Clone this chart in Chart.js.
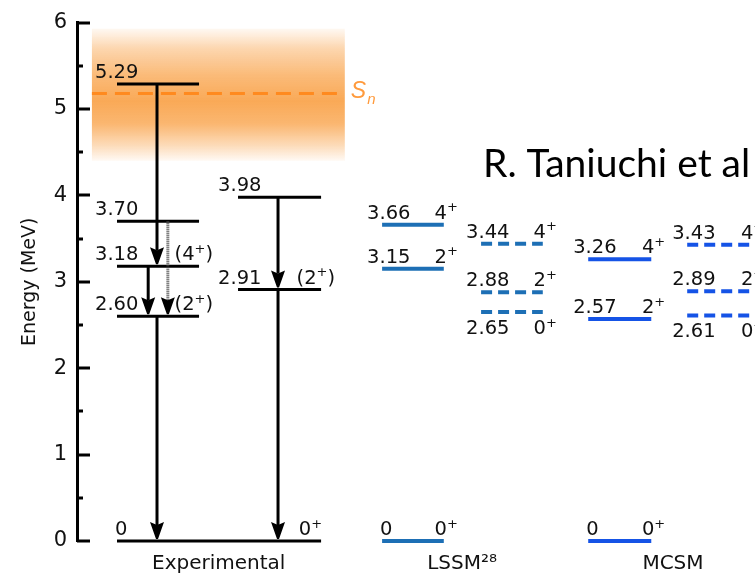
<!DOCTYPE html>
<html><head><meta charset="utf-8">
<script src="https://cdn.jsdelivr.net/npm/chart.js@4/dist/chart.umd.min.js"></script>
<style>html,body{margin:0;padding:0;background:#fff;overflow:hidden}canvas{display:block}</style>
</head><body>
<canvas id="c" width="755" height="574"></canvas>
<script>
// ---------------- data ----------------
const categories = ['Experimental', 'LSSM²⁸', 'MCSM'];
const yTickValues = [0, 1, 2, 3, 4, 5, 6];
const expLevelsA = [5.29, 3.70, 3.18, 2.60];
const expSpinsA = ['', '', '(4⁺)', '(2⁺)'];
const expLevelsB = [3.98, 2.91];
const expSpinsB = ['', '(2⁺)'];
const expGround = [0];
const expGroundSpins = ['0⁺'];
const lssmLevels = [3.66, 3.15, 0];
const lssmSpins = ['4⁺', '2⁺', '0⁺'];
const lssmDashLevels = [3.44, 2.88, 2.65];
const lssmDashSpins = ['4⁺', '2⁺', '0⁺'];
const mcsmLevels = [3.26, 2.57, 0];
const mcsmSpins = ['4⁺', '2⁺', '0⁺'];
const mcsmDashLevels = [3.43, 2.89, 2.61];
const mcsmDashSpins = ['4⁺', '2⁺', '0⁺'];
const transFrom = [5.29, 3.70, 3.18, 2.60, 3.98, 2.91];
const transTo = [3.18, 2.60, 2.60, 0, 2.91, 0];
const neutronSep = 5.18;
const snBand = [4.40, 5.93];
const citation = 'R. Taniuchi et al';

// ---------------- layout / style ----------------
const FONT = '"DejaVu Sans", "Liberation Sans", sans-serif';
const TEXT = '#111';
const LSSM_C = '#1d6fb5';
const MCSM_C = '#1553e6';
const categoryCenters = [2.09, 5.68, 8.79];
const bandX = [0.22, 3.95];
const columns = [
  {levels: expLevelsA, spins: expSpinsA, x0: 0.59, x1: 1.80, color: '#000', width: 3, dash: [], eOff: 22, sOff: 14},
  {levels: expLevelsB, spins: expSpinsB, x0: 2.375, x1: 3.60, color: '#000', width: 3, dash: [], eOff: 20, sOff: 14},
  {levels: expGround, spins: expGroundSpins, x0: 0.59, x1: 3.60, color: '#000', width: 3, dash: [], eOff: 2, sOff: 1},
  {levels: lssmLevels, spins: lssmSpins, x0: 4.50, x1: 5.41, color: LSSM_C, width: 4, dash: [], eOff: 15, sOff: 14},
  {levels: lssmDashLevels, spins: lssmDashSpins, x0: 5.96, x1: 6.87, color: LSSM_C, width: 4, dash: [11, 6], eOff: 15, sOff: 14, below: [false, false, true]},
  {levels: mcsmLevels, spins: mcsmSpins, x0: 7.54, x1: 8.47, color: MCSM_C, width: 4, dash: [], eOff: 15, sOff: 14},
  {levels: mcsmDashLevels, spins: mcsmDashSpins, x0: 9.00, x1: 9.93, color: MCSM_C, width: 4, dash: [11, 6], eOff: 15, sOff: 14, below: [false, false, true]}
];
const transX = [1.18, 1.34, 1.05, 1.18, 2.965, 2.965];
const transDotted = [false, true, false, false, false, false];

// ---------------- datasets ----------------
const datasets = [];
columns.forEach(col => {
  col.levels.forEach(e => {
    datasets.push({
      type: 'line', data: [{x: col.x0, y: e}, {x: col.x1, y: e}],
      borderColor: col.color, borderWidth: col.width, borderDash: col.dash,
      borderCapStyle: 'butt', pointRadius: 0, tension: 0, clip: false
    });
  });
});
datasets.push({
  type: 'line', data: [{x: bandX[0], y: neutronSep}, {x: bandX[1], y: neutronSep}],
  borderColor: '#ff8a1f', borderWidth: 3, borderDash: [15, 8], borderCapStyle: 'butt',
  pointRadius: 0, clip: false
});

function drawRich(ctx, text, x, y, align, size) {
  const parts = [];
  let buf = '';
  for (const ch of text) {
    if (ch === '⁺') { if (buf) parts.push({t: buf, sup: false}); buf = ''; parts.push({t: '+', sup: true}); }
    else buf += ch;
  }
  if (buf) parts.push({t: buf, sup: false});
  const supSize = Math.round(size * 0.68);
  let total = 0;
  parts.forEach(p => {
    ctx.font = (p.sup ? supSize : size) + 'px ' + FONT;
    p.w = ctx.measureText(p.t).width;
    total += p.w;
  });
  let cx = align === 'right' ? x - total : x;
  ctx.textAlign = 'left';
  ctx.textBaseline = 'alphabetic';
  parts.forEach(p => {
    ctx.font = (p.sup ? supSize : size) + 'px ' + FONT;
    ctx.fillText(p.t, cx, p.sup ? y - size * 0.38 : y);
    cx += p.w;
  });
}

function arrow(ctx, x, yFrom, yTo, dotted) {
  const head = 17, hw = 7;
  const tip = yTo - 2;
  ctx.save();
  ctx.lineWidth = 3;
  ctx.strokeStyle = dotted ? '#444' : '#000';
  ctx.setLineDash(dotted ? [1, 1] : []);
  ctx.beginPath(); ctx.moveTo(x, yFrom); ctx.lineTo(x, tip - head + 3); ctx.stroke();
  ctx.setLineDash([]);
  ctx.fillStyle = '#000';
  ctx.beginPath();
  ctx.moveTo(x - hw, tip - head); ctx.lineTo(x, tip - head + 3); ctx.lineTo(x + hw, tip - head);
  ctx.lineTo(x + 1, tip); ctx.lineTo(x - 1, tip); ctx.closePath(); ctx.fill();
  ctx.restore();
}

const scheme = {
  id: 'scheme',
  beforeDatasetsDraw(chart) {
    const {ctx, scales: {x, y}} = chart;
    const x0 = x.getPixelForValue(bandX[0]), x1 = x.getPixelForValue(bandX[1]);
    const yt = y.getPixelForValue(snBand[1]), yb = y.getPixelForValue(snBand[0]);
    const g = ctx.createLinearGradient(0, yt, 0, yb);
    g.addColorStop(0, 'rgba(248,148,45,0.06)');
    g.addColorStop(0.15, 'rgba(248,148,45,0.38)');
    g.addColorStop(0.35, 'rgba(248,148,45,0.64)');
    g.addColorStop(0.55, 'rgba(248,148,45,0.8)');
    g.addColorStop(0.72, 'rgba(248,148,45,0.68)');
    g.addColorStop(0.88, 'rgba(248,148,45,0.34)');
    g.addColorStop(1, 'rgba(248,148,45,0.05)');
    ctx.save(); ctx.fillStyle = g; ctx.fillRect(x0, yt, x1 - x0, yb - yt); ctx.restore();
  },
  afterDatasetsDraw(chart) {
    const {ctx, scales: {x, y}, chartArea} = chart;
    ctx.save();
    // inward axis ticks
    ctx.strokeStyle = '#000'; ctx.lineWidth = 3;
    for (let v = 0; v <= 6; v += 0.5) {
      const py = Math.round(y.getPixelForValue(v));
      const len = Number.isInteger(v) ? 13 : 6;
      ctx.beginPath(); ctx.moveTo(chartArea.left, py); ctx.lineTo(chartArea.left + len, py); ctx.stroke();
    }
    // transitions
    transFrom.forEach((f, i) => {
      arrow(ctx, x.getPixelForValue(transX[i]), y.getPixelForValue(f), y.getPixelForValue(transTo[i]), transDotted[i]);
    });
    // level labels
    ctx.fillStyle = TEXT;
    columns.forEach(col => {
      const px0 = x.getPixelForValue(col.x0), px1 = x.getPixelForValue(col.x1);
      col.levels.forEach((e, i) => {
        const py = y.getPixelForValue(e);
        const below = col.below && col.below[i];
        const base = below ? py + 22 : py - 6;
        const etxt = e === 0 ? '0' : e.toFixed(2);
        const ex = e === 0 ? px0 - 2 : px0 - col.eOff;
        drawRich(ctx, etxt, ex, base, 'left', 19.5);
        if (col.spins[i]) drawRich(ctx, col.spins[i], px1 + col.sOff, base, 'right', 19.5);
      });
    });
    // Sn label
    const sy = y.getPixelForValue(neutronSep);
    const sx = x.getPixelForValue(bandX[1]) + 6;
    ctx.fillStyle = '#ff9a3c';
    ctx.textAlign = 'left'; ctx.textBaseline = 'alphabetic';
    ctx.font = 'italic 23px "Liberation Sans", sans-serif';
    ctx.fillText('S', sx, sy + 5);
    const sw = ctx.measureText('S').width;
    ctx.font = 'italic 15px "Liberation Sans", sans-serif';
    ctx.fillText('n', sx + sw + 1, sy + 11);
    // citation
    ctx.fillStyle = '#000';
    ctx.font = '39px Lato, "Open Sans", sans-serif';
    ctx.fillText(citation, 483, 177);
    ctx.restore();
  }
};

new Chart(document.getElementById('c'), {
  type: 'line',
  data: {datasets},
  options: {
    responsive: false, animation: false, devicePixelRatio: 1,
    layout: {padding: {top: 20, left: 0, right: 0, bottom: 0}},
    plugins: {legend: {display: false}, tooltip: {enabled: false}},
    scales: {
      x: {
        type: 'linear', min: 0, max: 10,
        afterBuildTicks: s => { s.ticks = categoryCenters.map(v => ({value: v})); },
        afterFit: s => { s.height = 33; },
        ticks: {callback: (v, i) => categories[i], autoSkip: false, maxRotation: 0, padding: 11,
                font: {family: FONT, size: 20}, color: TEXT},
        grid: {display: false, drawTicks: false}, border: {display: false}
      },
      y: {
        type: 'linear', min: 0, max: 6,
        afterBuildTicks: s => { s.ticks = yTickValues.map(v => ({value: v})); },
        afterFit: s => { s.width = 77; },
        ticks: {padding: 10, font: {family: FONT, size: 21}, color: TEXT},
        grid: {display: false, drawTicks: false},
        border: {display: true, width: 3, color: '#000'},
        title: {display: true, text: 'Energy (MeV)', font: {family: FONT, size: 19}, color: TEXT,
                padding: {top: 19, bottom: 0}}
      }
    }
  },
  plugins: [scheme]
});
</script>
</body></html>
